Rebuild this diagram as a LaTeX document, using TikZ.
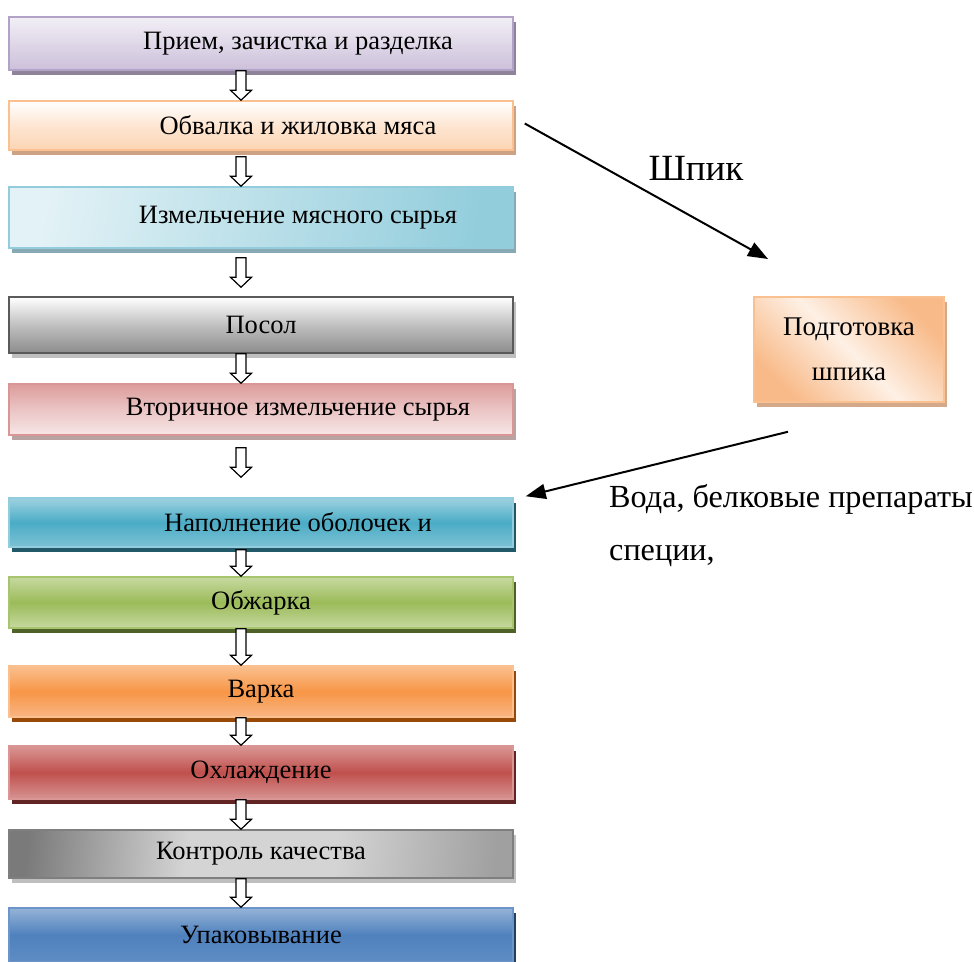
\documentclass[tikz,border=0pt]{standalone}
\usepackage{fontspec}
\setmainfont{Liberation Serif}
\usetikzlibrary{calc,shadows,arrows.meta}
\definecolor{pB}{HTML}{B3A2C7}\definecolor{pT}{HTML}{F2EFF6}\definecolor{pL}{HTML}{CCC0DA}\definecolor{pS}{HTML}{8E8399}
\definecolor{oB}{HTML}{FAC090}\definecolor{oL}{HTML}{FCD5B4}\definecolor{oS}{HTML}{CDA183}
\definecolor{cB}{HTML}{93CDDD}\definecolor{cT}{HTML}{E3F2F6}\definecolor{cR}{HTML}{92CDDC}\definecolor{cS}{HTML}{86A9B4}
\definecolor{gB}{HTML}{5A5A5A}\definecolor{gL}{HTML}{8C8C8C}\definecolor{gS}{HTML}{BFBFBF}
\definecolor{rB}{HTML}{D99694}\definecolor{rT}{HTML}{DC9C9B}\definecolor{rL}{HTML}{F7E6E6}\definecolor{rS}{HTML}{B8A2A2}
\definecolor{tT}{HTML}{9DD2E0}\definecolor{tM}{HTML}{4BACC6}\definecolor{tL}{HTML}{7CC2D4}\definecolor{tS}{HTML}{215968}
\definecolor{vB}{HTML}{A9C46F}\definecolor{vT}{HTML}{C6D9A0}\definecolor{vM}{HTML}{9BBB59}\definecolor{vS}{HTML}{4F6228}
\definecolor{aM}{HTML}{F79646}\definecolor{aL}{HTML}{F9B583}\definecolor{aS}{HTML}{984807}
\definecolor{kM}{HTML}{C0504D}\definecolor{kL}{HTML}{D69492}\definecolor{kS}{HTML}{632523}
\definecolor{qB}{HTML}{7F7F7F}\definecolor{qL}{HTML}{7A7A7A}\definecolor{qM}{HTML}{D4D4D4}\definecolor{qR}{HTML}{A0A0A0}
\definecolor{uB}{HTML}{6C95C9}\definecolor{uT}{HTML}{95B3D7}\definecolor{uM}{HTML}{4F81BD}\definecolor{uL}{HTML}{5F8CC4}\definecolor{uS}{HTML}{243F60}
\definecolor{sS}{HTML}{D4A98A}\definecolor{sW}{HTML}{FEF0E5}\definecolor{sO}{HTML}{F8BA88}
\newcommand\tshade[4]{\pgfdeclareverticalshading{#1}{100bp}{color(0bp)=(#4); color(25bp)=(#4); color(50bp)=(#3); color(75bp)=(#2); color(100bp)=(#2)}}
\tshade{shP}{pT}{pT!50!pL}{pL}
\tshade{shO}{white}{white!40!oL}{oL}
\tshade{shC}{cT}{cT!50!cR}{cR}
\tshade{shG}{white}{white!45!gL}{gL}
\tshade{shR}{rT}{rT!45!rL}{rL}
\tshade{shT}{tT}{tM}{tL}
\tshade{shV}{vT}{vM}{vT}
\tshade{shA}{oB}{aM}{aL}
\tshade{shK}{rB}{kM}{kL}
\tshade{shU}{uT}{uM}{uL}
\tshade{shS}{sO}{sW}{sO}
\pgfdeclareverticalshading{shQ}{100bp}{color(0bp)=(qR); color(25bp)=(qR); color(42bp)=(qM); color(58bp)=(qM); color(75bp)=(qL); color(100bp)=(qL)}
\newcommand\harrow[4]{%
  \draw[harr] let \p1=($(#1.south)+(-20,#3)$), \p2=($(#2.north)+(-20,-#4)$) in
    (\x1-5pt,\y1) -- (\x1-5pt,\y2+10pt) -- (\x1-10.5pt,\y2+10pt) -- (\x1,\y2)
    -- (\x1+10.5pt,\y2+10pt) -- (\x1+5pt,\y2+10pt) -- (\x1+5pt,\y1) -- cycle;}
\newcommand\toff[1]{\hspace*{74pt}#1}
\tikzset{
  box/.style={rectangle, minimum width=504pt, inner sep=0pt, line width=1.5pt,
    font=\fontsize{26.5}{30}\selectfont},
  shad/.style={drop shadow={shadow xshift=3pt, shadow yshift=-5pt, fill=#1, opacity=1}},
  harr/.style={draw=black, fill=white, line width=1.2pt, line join=miter},
  larr/.style={line width=2pt, -{Triangle[length=20pt,width=15pt]}},
  lbl/.style={inner sep=0pt}
}
\begin{document}
\begin{tikzpicture}[x=1pt,y=-1pt]
\useasboundingbox (0,0) rectangle (974,961);
\fill[white] (0,0) rectangle (974,961);
\node[box, minimum height=53pt, draw=pB, shading=shP, shad=pS] (b1) at (261,43.5) {\toff{Прием, зачистка и разделка}};
\node[box, minimum height=49pt, draw=oB, shading=shO, shad=oS] (b2) at (261,125.5) {\toff{Обвалка и жиловка мяса}};
\node[box, minimum height=61pt, draw=cB, shading=shC, shading angle=80, shad=cS] (b3) at (261,217.5) {\toff{Измельчение мясного сырья}};
\node[box, minimum height=56pt, draw=gB, shading=shG, shad=gS] (b4) at (261,325) {Посол};
\node[box, minimum height=51pt, draw=rB, shading=shR, shad=rS] (b5) at (261,409.5) {\toff{Вторичное измельчение сырья}};
\node[box, minimum height=49pt, draw=cB, shading=shT, shad=tS] (b6) at (261,522.5) {\toff{Наполнение оболочек и}};
\node[box, minimum height=51pt, draw=vB, shading=shV, shad=vS] (b7) at (261,602.5) {Обжарка};
\node[box, minimum height=51pt, draw=oB, shading=shA, shad=aS] (b8) at (261,691.5) {Варка};
\node[box, minimum height=53pt, draw=rB, shading=shK, shad=kS] (b9) at (261,772.5) {Охлаждение};
\node[box, minimum height=48pt, draw=qB, shading=shQ, shading angle=85, shad=gS] (b10) at (261,854) {Контроль качества};
\node[box, minimum height=54pt, draw=uB, shading=shU, shad=uS] (b11) at (261,935) {Упаковывание};
\node[rectangle, minimum width=190pt, minimum height=105pt, inner sep=0pt, line width=1.5pt, draw=oB,
  shading=shS, shading angle=-45, shad=sS, align=center,
  font=\fontsize{27}{45}\selectfont] (sp) at (849,349.5) {Подготовка\\шпика};
\harrow{b1}{b2}{0}{0}
\harrow{b2}{b3}{6}{0}
\harrow{b3}{b4}{9}{9}
\harrow{b4}{b5}{0}{0}
\harrow{b5}{b6}{12}{20}
\harrow{b6}{b7}{2}{0}
\harrow{b7}{b8}{0}{0}
\harrow{b8}{b9}{0}{0}
\harrow{b9}{b10}{0}{0}
\harrow{b10}{b11}{0}{0}
\coordinate (s1) at ($(b2.east)+(11,-2)$);
\coordinate (e1) at (768,259);
\draw[larr] (s1) -- (e1);
\coordinate (s2) at ($(sp.south)+(-61,29)$);
\coordinate (e2) at ($(b6.north east)+(12,-1)$);
\draw[larr] (s2) -- (e2);
\node[lbl, font=\fontsize{37}{40}\selectfont] (shpik) at (696,168) {Шпик};
\node[lbl, anchor=base west, font=\fontsize{32.2}{35}\selectfont] (voda) at (609,507) {Вода, белковые препараты};
\node[lbl, anchor=base west, font=\fontsize{32.2}{35}\selectfont] (spec) at (609,560) {специи,};
\end{tikzpicture}
\end{document}
